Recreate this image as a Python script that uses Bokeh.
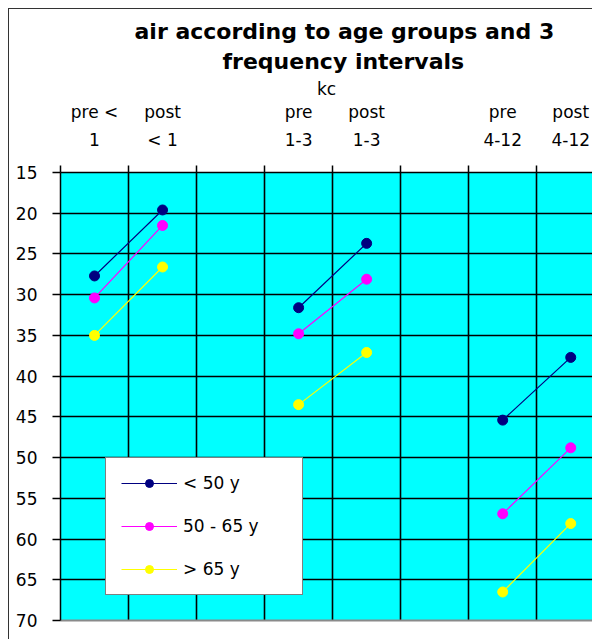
from bokeh.plotting import figure
from bokeh.models import (Range1d, LinearAxis, FixedTicker, Grid, Legend,
                          LegendItem, Title, InlineStyleSheet)
from bokeh.embed import file_html
from bokeh.resources import INLINE

# ---- data ----
categories = ["pre < 1", "post < 1", "", "pre 1-3", "post 1-3", "", "pre 4-12", "post 4-12"]
label_upper = ["pre <", "post", "", "pre", "post", "", "pre", "post"]
label_lower = ["1", "< 1", "", "1-3", "1-3", "", "4-12", "4-12"]
nan = float("nan")
under_50 = [27.7, 19.6, nan, 31.6, 23.7, nan, 45.4, 37.7]
from_50_to_65 = [30.4, 21.5, nan, 34.8, 28.1, nan, 56.9, 48.8]
over_65 = [35.0, 26.6, nan, 43.5, 37.1, nan, 66.5, 58.1]
series_names = ["< 50 y", "50 - 65 y", "> 65 y"]
series_colors = ["#000080", "#FF00FF", "#FFFF00"]
y_ticks = [15, 20, 25, 30, 35, 40, 45, 50, 55, 60, 65, 70]
title_lines = ["air according to age groups and 3", "frequency intervals"]

FONT = "DejaVu Sans"

# category slots: centre of each slot, boundaries between slots
centers = [i + 0.5 for i in range(len(categories))]
boundaries = list(range(len(categories) + 1))
label_centers = [c for c, name in zip(centers, categories) if name]

p = figure(width=584, height=624, output_backend="svg", toolbar_location=None,
           x_range=Range1d(0, 7.82), y_range=Range1d(70, 15),
           x_axis_location=None, y_axis_location="left",
           min_border_left=52, min_border_right=0, min_border_bottom=19,
           min_border_top=0,
           background_fill_color="#00FFFF", border_fill_color="white",
           outline_line_color=None)
p.margin = (15, 0, 0, 8)
p.stylesheets = [InlineStyleSheet(css=(
    ":host { position: relative; overflow: visible; }"
    ":host::before { content: ''; position: absolute; left: 0; top: -7px;"
    " width: 100%; height: calc(100% + 7px); box-sizing: border-box;"
    " border-left: 1px solid #333; border-top: 1px solid #333;"
    " z-index: 5; pointer-events: none; }"))]
p.title.text = ""

# y axis
yax = p.yaxis[0]
yax.ticker = FixedTicker(ticks=y_ticks)
yax.axis_line_color = "black"
yax.axis_line_width = 1.5
yax.major_tick_out = 8
yax.major_tick_in = 0
yax.major_tick_line_color = "black"
yax.major_tick_line_width = 1.5
yax.minor_tick_line_color = None
yax.major_label_text_font = FONT
yax.major_label_text_font_size = "17px"
yax.major_label_text_color = "black"
yax.major_label_standoff = 15

p.ygrid.ticker = FixedTicker(ticks=y_ticks)
p.ygrid.grid_line_color = "black"
p.ygrid.grid_line_width = 1.6

xgrid = Grid(dimension=0, ticker=FixedTicker(ticks=boundaries[1:]),
             grid_line_color="black", grid_line_width=1.6)
p.add_layout(xgrid)

# top axes: inner (lower label row + boundary ticks), outer (upper row + "kc")
inner = LinearAxis(ticker=FixedTicker(ticks=label_centers, minor_ticks=boundaries),
                   major_label_overrides={c: t for c, t in zip(centers, label_lower) if t},
                   axis_line_color="black", axis_line_width=1.6,
                   major_tick_out=0, major_tick_in=0, major_tick_line_color=None,
                   minor_tick_out=7, minor_tick_in=0, minor_tick_line_color="black",
                   minor_tick_line_width=1.5,
                   major_label_text_font=FONT, major_label_text_font_size="17px",
                   major_label_text_color="black", major_label_standoff=16)
outer = LinearAxis(ticker=FixedTicker(ticks=label_centers),
                   major_label_overrides={c: t for c, t in zip(centers, label_upper) if t},
                   axis_line_color=None,
                   major_tick_out=0, major_tick_in=0, major_tick_line_color=None,
                   minor_tick_line_color=None,
                   major_label_text_font=FONT, major_label_text_font_size="17px",
                   major_label_text_color="black", major_label_standoff=5,
                   axis_label="kc", axis_label_text_font=FONT,
                   axis_label_text_font_size="17px", axis_label_text_font_style="normal",
                   axis_label_text_color="black", axis_label_standoff=0)
p.add_layout(inner, "above")
p.add_layout(outer, "above")

# bottom edge of the plot area (grey line, no ticks)
bottom = LinearAxis(ticker=FixedTicker(ticks=[]), axis_line_color="#8a8a8a",
                    axis_line_width=2, major_tick_line_color=None,
                    minor_tick_line_color=None, major_label_text_font_size="0px",
                    major_label_standoff=0)
p.add_layout(bottom, "below")

# two-line title
t2 = Title(text=title_lines[1], align="left", offset=162, standoff=4,
           text_font=FONT, text_font_style="bold", text_font_size="22px",
           text_color="black")
t1 = Title(text=title_lines[0], align="left", offset=74, standoff=2,
           text_font=FONT, text_font_style="bold", text_font_size="22px",
           text_color="black")
p.add_layout(t2, "above")
p.add_layout(t1, "above")

# series
items = []
for name, vals, col in zip(series_names, [under_50, from_50_to_65, over_65], series_colors):
    ln = p.line(centers, vals, line_color=col, line_width=1.2)
    mk = p.scatter(centers, vals, marker="circle", size=10, fill_color=col, line_color=col)
    items.append(LegendItem(label=name, renderers=[ln, mk]))

legend = Legend(items=items, location=(45, 25), margin=0, padding=15,
                glyph_width=56, glyph_height=20, label_standoff=6, spacing=23,
                label_width=104, label_text_font=FONT, label_text_font_size="17px",
                label_text_color="black",
                background_fill_color="white", background_fill_alpha=1.0,
                border_line_color="black", border_line_width=1.5)
p.add_layout(legend)

open("out.html", "w").write(file_html(p, INLINE))
